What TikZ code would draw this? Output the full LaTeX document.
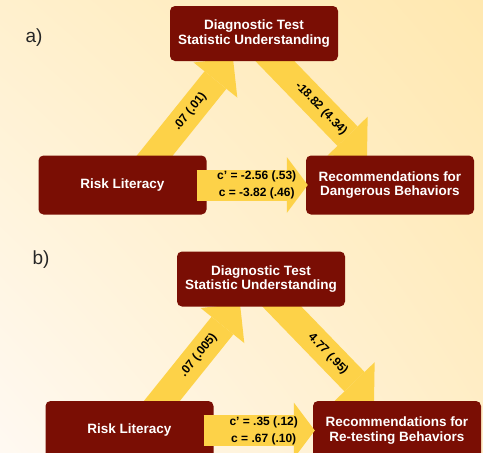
\documentclass[tikz,border=0pt]{standalone}
\usepackage{fontspec}
\setmainfont{Liberation Sans}
\usetikzlibrary{arrows.meta,shadings}
\definecolor{boxred}{RGB}{122,14,4}
\definecolor{arrowyellow}{RGB}{253,210,72}
\definecolor{bgul}{RGB}{255,240,205}
\definecolor{bgur}{RGB}{255,232,176}
\definecolor{bgll}{RGB}{255,249,242}
\definecolor{bglr}{RGB}{255,238,200}
\pgfdeclarelayer{bg}
\pgfdeclarelayer{behind}
\pgfsetlayers{bg,behind,main}

\begin{document}
\begin{tikzpicture}[x=1pt,y=-1pt,
  box/.style={fill=boxred,rounded corners=5pt,text=white,align=center,inner sep=0pt,minimum width=168pt,minimum height=55pt,font=\fontsize{13.5}{14.5}\selectfont\bfseries},
  lowbox/.style={box,minimum height=59pt},
  bigarrow/.style={draw=arrowyellow,line width=28pt,shorten <=-20pt,-{Triangle[length=28pt,width=56pt,line width=0pt]}},
  sidearrow/.style={draw=arrowyellow,line width=31pt,-{Triangle[length=21pt,width=56pt,line width=0pt]}},
  lab/.style={font=\fontsize{12}{17}\selectfont\bfseries,align=center},
  panel/.style={font=\fontsize{19}{19}\selectfont,text=black!85}]
\useasboundingbox (0,0) rectangle (483,453);
\begin{pgfonlayer}{bg}
\shade[upper left=bgul,upper right=bgur,lower left=bgll,lower right=bglr] (0,0) rectangle (483,453);
\end{pgfonlayer}

% a) dangerous behaviors
\node[panel] (pa) at (34,38) {a)};
\node[box] (ta) at (254,33.5) {Diagnostic Test\\Statistic Understanding};
\node[lowbox] (ra) at (122.5,185) {Risk Literacy};
\node[lowbox] (ca) at (390,185) {Recommendations for\\Dangerous Behaviors};
\begin{pgfonlayer}{behind}
\draw[bigarrow] ([xshift=32.5pt]ra.north) -- node[lab,sloped,pos=0.45] {.07 (.01)} ([xshift=-21pt,yshift=3pt]ta.south);
\draw[bigarrow] ([xshift=21pt]ta.south) -- node[lab,sloped] {-18.82 (4.34)} ([xshift=-23pt,yshift=-1pt]ca.north);
\end{pgfonlayer}
\draw[sidearrow] ([xshift=-10pt]ra.east) -- node[lab,pos=0.54] {c’ = -2.56 (.53)\\c = -3.82 (.46)} ([xshift=2pt]ca.west);

% b) re-testing behaviors
\node[panel] (pb) at (41,260) {b)};
\node[box] (tb) at (261,279) {Diagnostic Test\\Statistic Understanding};
\node[lowbox] (rb) at (129.5,430.5) {Risk Literacy};
\node[lowbox] (cb) at (397,430.5) {Recommendations for\\Re-testing Behaviors};
\begin{pgfonlayer}{behind}
\draw[bigarrow] ([xshift=32.5pt]rb.north) -- node[lab,sloped,pos=0.47] {.07 (.005)} ([xshift=-21pt,yshift=3pt]tb.south);
\draw[bigarrow] ([xshift=21pt]tb.south) -- node[lab,sloped] {4.77 (.95)} ([xshift=-23pt,yshift=-1pt]cb.north);
\end{pgfonlayer}
\draw[sidearrow] ([xshift=-10pt]rb.east) -- node[lab,pos=0.54] {c’ = .35 (.12)\\c = .67 (.10)} ([xshift=2pt]cb.west);
\end{tikzpicture}
\end{document}
